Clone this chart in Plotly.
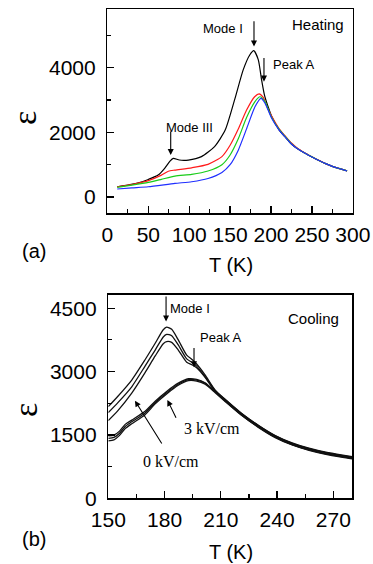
import plotly.graph_objects as go

# ---------------- data: (a) heating ----------------
T_black = [12, 25, 38, 50, 62, 70, 76.5, 80.5, 88, 99, 115, 131, 144, 156, 166, 174, 179, 184.5, 188.5, 192,
           197, 201, 210, 217, 225, 232, 241.6, 250, 258, 266, 275, 285, 293]
E_black = [320, 370, 440, 545, 680, 890, 1110, 1195, 1145, 1145, 1250, 1560, 2070, 3050, 3930, 4390, 4525, 4240, 3620, 3150,
           2750, 2480, 2070, 1865, 1640, 1500, 1352, 1240, 1140, 1042, 950, 870, 810]

T_red = [12, 30, 50, 66, 74.5, 82.6, 103, 123, 140, 150, 160, 170, 180, 185.5, 190.5, 195, 200.8, 210, 217, 225,
         232, 241.6, 250, 258, 266, 275, 285, 293]
E_red = [320, 390, 510, 680, 800, 835, 905, 1010, 1250, 1600, 2100, 2680, 3100, 3190, 3080, 2800, 2500, 2110, 1900, 1670,
         1515, 1360, 1245, 1142, 1043, 950, 870, 810]

T_green = [12, 30, 50, 66, 82.6, 103, 123, 140, 150, 160, 170, 180.4, 186.5, 192.7, 200, 210, 217, 225,
           232, 241.6, 250, 258, 266, 275, 285, 293]
E_green = [300, 370, 455, 550, 650, 700, 805, 1000, 1300, 1800, 2450, 2950, 3100, 2950, 2500, 2090, 1880, 1650,
           1505, 1355, 1242, 1140, 1042, 950, 870, 810]

T_blue = [12, 30, 50, 82.6, 103, 123, 140, 150, 160, 170, 180.4, 187.8, 192.7, 200.8, 210, 217, 225,
          232, 241.6, 250, 258, 266, 275, 285, 293]
E_blue = [250, 285, 320, 425, 475, 575, 760, 1000, 1450, 2100, 2790, 3050, 2900, 2434, 2070, 1865, 1640,
          1500, 1352, 1240, 1140, 1042, 950, 870, 805]

# ---------------- data: (b) cooling ----------------
T_tail = [212, 221, 230, 239, 248, 257, 266, 275, 280]
E_tail = [2330, 1990, 1705, 1462, 1287, 1160, 1065, 995, 960]

T_up = [150, 155, 162.5, 169.6, 175, 179.3, 181.1, 183.8, 187.3, 191.8, 194.8, 197.1, 201.6, 207]
E_up1 = [2170, 2410, 2800, 3280, 3670, 3990, 4050, 4000, 3750, 3390, 3280, 3180, 2920, 2560]
E_up2 = [2030, 2260, 2640, 3130, 3510, 3820, 3880, 3850, 3630, 3300, 3212, 3130, 2880, 2545]
E_up3 = [1840, 2070, 2490, 2975, 3370, 3660, 3710, 3690, 3510, 3220, 3157, 3090, 2865, 2530]

T_low = [150, 153, 156, 159, 162.5, 169.6, 175, 181.1, 187.3, 192.7, 197.1, 201.6, 207]
E_low1 = [1480, 1495, 1590, 1750, 1850, 2060, 2300, 2530, 2725, 2830, 2815, 2735, 2530]
E_low2 = [1420, 1440, 1540, 1700, 1810, 2020, 2270, 2500, 2700, 2810, 2795, 2720, 2515]
E_low3 = [1360, 1385, 1490, 1650, 1765, 1980, 2235, 2470, 2675, 2785, 2775, 2700, 2500]
tail_offsets = [25, 15, 8, -8, -15, -25]

SANS = "Liberation Sans, Arial, sans-serif"
SERIF = "Liberation Serif, Times New Roman, serif"

fig = go.Figure()

for T, E, c in [(T_black, E_black, "#000000"), (T_red, E_red, "#ff1a1a"),
                (T_green, E_green, "#19cc19"), (T_blue, E_blue, "#1f2fff")]:
    fig.add_trace(go.Scatter(x=T, y=E, mode="lines", line=dict(color=c, width=1.2, shape="spline", smoothing=0.6),
                             xaxis="x", yaxis="y", showlegend=False, hoverinfo="skip"))

for E, off in zip([E_up1, E_up2, E_up3, E_low1, E_low2, E_low3], tail_offsets):
    T_all = T_up + T_tail if len(E) == len(T_up) else T_low + T_tail
    E_all = list(E) + [v + off for v in E_tail]
    fig.add_trace(go.Scatter(x=T_all, y=E_all, mode="lines",
                             line=dict(color="#111111", width=1.3, shape="spline", smoothing=0.6),
                             xaxis="x2", yaxis="y2", showlegend=False, hoverinfo="skip"))

W, H = 373, 564
def px_x(p):
    return p / W
def px_y(p):
    return 1 - p / H

axis_common = dict(showline=True, linecolor="black", linewidth=1.5, mirror=True, ticks="inside",
                   ticklen=7, tickwidth=1.3, tickcolor="black", showgrid=False, zeroline=False,
                   automargin=False,
                   tickfont=dict(family=SANS, size=21, color="black"))

fig.update_layout(
    template="none",
    width=W, height=H, margin=dict(l=0, r=0, t=0, b=0, pad=0),
    paper_bgcolor="white", plot_bgcolor="white", showlegend=False,
    xaxis=dict(domain=[px_x(107.4), px_x(352.8)], range=[0, 300], tickmode="linear", tick0=0, dtick=50,
               anchor="y", ticklabelstandoff=2,
               minor=dict(ticks="inside", ticklen=4, tickwidth=1.2, tickcolor="black", dtick=25, tick0=0),
               **axis_common),
    yaxis=dict(domain=[px_y(213.3), px_y(9.3)], range=[-500, 5800], tickmode="array", tickvals=[0, 2000, 4000],
               anchor="x", ticklabelstandoff=6,
               minor=dict(ticks="inside", ticklen=4, tickwidth=1.2, tickcolor="black", tickmode="array",
                          tickvals=[1000, 3000, 5000]),
               **axis_common),
    xaxis2=dict(domain=[px_x(108.3), px_x(352.3)], range=[150, 280.1], tickmode="linear", tick0=150, dtick=30,
                anchor="y2", ticklabelstandoff=2,
                minor=dict(ticks="inside", ticklen=4, tickwidth=1.2, tickcolor="black", dtick=15, tick0=150),
                **axis_common),
    yaxis2=dict(domain=[px_y(498.3), px_y(294.7)], range=[0, 4820], tickmode="linear", tick0=0, dtick=1500,
                anchor="x2", ticklabelstandoff=6,
                minor=dict(ticks="inside", ticklen=4, tickwidth=1.2, tickcolor="black", dtick=750, tick0=0),
                **axis_common),
)

ann = []
def text(x, y, t, size=13, xref="x", yref="y", family=SANS, angle=0):
    ann.append(dict(x=x, y=y, xref=xref, yref=yref, text=t, showarrow=False, textangle=angle,
                    font=dict(family=family, size=size, color="black"), xanchor="center", yanchor="middle"))
def arrow(x, y, x0, y0, xr, yr):
    ann.append(dict(x=x, y=y, ax=x0, ay=y0, xref=xr, yref=yr, axref=xr, ayref=yr, text="",
                    showarrow=True, arrowhead=2, arrowsize=1.1, arrowwidth=1.1, arrowcolor="black",
                    standoff=0, startstandoff=0))

# panel (a)
text(257.5, 5320, "Heating", 15)
text(141.3, 5212, "Mode I", 13)
text(228.7, 4098, "Peak A", 13)
text(100.4, 2165, "Mode III", 13)
arrow(179.2, 4649, 179.2, 5475, "x", "y")
arrow(191.4, 3566, 191.4, 4339, "x", "y")
arrow(77.4, 1299, 77.4, 2072, "x", "y")
# panel (b)
text(259.3, 4247, "Cooling", 15, "x2", "y2")
text(193.7, 4484, "Mode I", 13, "x2", "y2")
text(210.1, 3797, "Peak A", 13, "x2", "y2")
text(205.3, 1641, "3 kV/cm", 16, "x2", "y2", SERIF)
text(183.3, 883, "0 kV/cm", 16, "x2", "y2", SERIF)
arrow(180.8, 4183, 180.8, 4815, "x2", "y2")
arrow(195.7, 3103, 195.7, 3591, "x2", "y2")
arrow(164.2, 2312, 179.0, 1262, "x2", "y2")
arrow(181.5, 2328, 186.5, 1871, "x2", "y2")

# axis titles and panel labels (paper coordinates)
text(px_x(231), px_y(265), "T (K)", 20, "paper", "paper")
text(px_x(231), px_y(552), "T (K)", 20, "paper", "paper")
text(px_x(34), px_y(251), "(a)", 20, "paper", "paper")
text(px_x(34), px_y(539), "(b)", 20, "paper", "paper")
text(px_x(24), px_y(118), "ε", 34, "paper", "paper", SERIF, -90)
text(px_x(25), px_y(410), "ε", 34, "paper", "paper", SERIF, -90)

fig.update_layout(annotations=ann)
fig.write_html("out.html",
               config={"displayModeBar": False, "staticPlot": True},
               post_script="document.body.style.margin='0';document.body.style.padding='0';"
                           "document.body.style.overflow='hidden';")
